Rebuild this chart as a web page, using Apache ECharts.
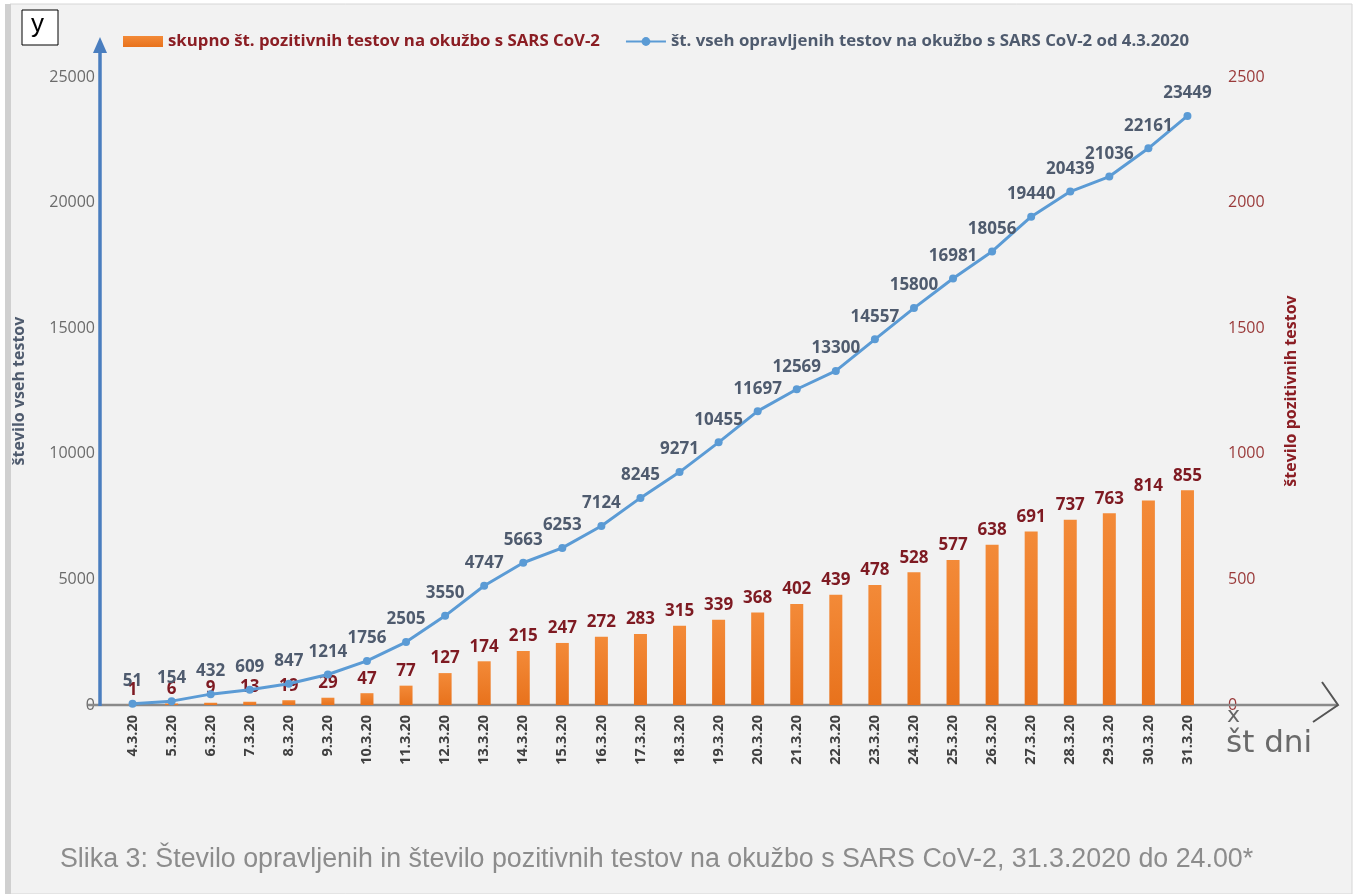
<!DOCTYPE html>
<html>
<head>
<meta charset="utf-8">
<script src="https://cdn.jsdelivr.net/npm/echarts@6/dist/echarts.min.js"></script>
<style>
html,body{margin:0;padding:0;background:#fff;}
#c{width:1360px;height:894px;}
</style>
</head>
<body>
<div id="c"></div>
<script>
const categories = ['4.3.20','5.3.20','6.3.20','7.3.20','8.3.20','9.3.20','10.3.20','11.3.20','12.3.20','13.3.20','14.3.20','15.3.20','16.3.20','17.3.20','18.3.20','19.3.20','20.3.20','21.3.20','22.3.20','23.3.20','24.3.20','25.3.20','26.3.20','27.3.20','28.3.20','29.3.20','30.3.20','31.3.20'];
const positiveTests = [1,6,9,13,19,29,47,77,127,174,215,247,272,283,315,339,368,402,439,478,528,577,638,691,737,763,814,855];
const allTests = [51,154,432,609,847,1214,1756,2505,3550,4747,5663,6253,7124,8245,9271,10455,11697,12569,13300,14557,15800,16981,18056,19440,20439,21036,22161,23449];
const barName = 'skupno št. pozitivnih testov na okužbo s SARS CoV-2';
const lineName = 'št. vseh opravljenih testov na okužbo s SARS CoV-2 od 4.3.2020';
const leftAxisName = 'število vseh testov';
const rightAxisName = 'število pozitivnih testov';
const caption = 'Slika 3: Število opravljenih in število pozitivnih testov na okužbo s SARS CoV-2, 31.3.2020 do 24.00*';

const FONT = "'Open Sans', sans-serif";
const plain = v => String(v);
const chart = echarts.init(document.getElementById('c'));
chart.setOption({
  backgroundColor: '#ffffff',
  animation: false,
  textStyle: { fontFamily: FONT },
  grid: { left: 113, right: 153, top: 77, bottom: 189 },
  legend: {
    left: 118, top: 28, itemGap: 25, itemWidth: 40, itemHeight: 11,
    textStyle: { fontFamily: FONT, fontSize: 16.8, fontWeight: 'bold' },
    data: [
      { name: barName, icon: 'rect', textStyle: { color: '#8b1e24' } },
      { name: lineName, itemWidth: 30, textStyle: { color: '#4f5b6e' } }
    ]
  },
  xAxis: {
    type: 'category', data: categories,
    axisLine: { show: false },
    axisTick: { show: false },
    axisLabel: { rotate: 90, fontSize: 14.5, fontWeight: 'bold', color: '#404040', margin: 10, fontFamily: FONT }
  },
  yAxis: [
    {
      type: 'value', min: 0, max: 25000, interval: 5000,
      name: leftAxisName, nameLocation: 'middle', nameGap: 86, nameRotate: 90,
      nameTextStyle: { color: '#4f5b6e', fontSize: 16, fontWeight: 'bold', fontFamily: FONT },
      axisLine: { show: false }, axisTick: { show: false }, splitLine: { show: false },
      axisLabel: { color: '#6b6b6b', fontSize: 16, margin: 18, fontFamily: FONT, formatter: plain }
    },
    {
      type: 'value', min: 0, max: 2500, interval: 500,
      name: rightAxisName, nameLocation: 'middle', nameGap: 76, nameRotate: 90,
      nameTextStyle: { color: '#8b1e24', fontSize: 16, fontWeight: 'bold', fontFamily: FONT },
      axisLine: { show: false }, axisTick: { show: false }, splitLine: { show: false },
      axisLabel: { color: '#9a3a3a', fontSize: 16, margin: 21, fontFamily: FONT, formatter: plain }
    }
  ],
  series: [
    {
      name: barName, type: 'bar', yAxisIndex: 1, data: positiveTests, barWidth: 13,
      itemStyle: { color: new echarts.graphic.LinearGradient(0,0,0,1,[{offset:0,color:'#f38a38'},{offset:1,color:'#e8721c'}]) },
      label: { show: true, position: 'top', distance: 6, color: '#7e1a22', fontSize: 17, fontWeight: 'bold', fontFamily: FONT },
      z: 2
    },
    {
      name: lineName, type: 'line', yAxisIndex: 0, data: allTests,
      symbol: 'circle', symbolSize: 8,
      lineStyle: { color: '#5b9bd5', width: 3 },
      itemStyle: { color: '#5b9bd5' },
      label: { show: true, position: 'top', distance: 10, color: '#4f5b6e', fontSize: 17, fontWeight: 'bold', fontFamily: FONT },
      z: 3
    }
  ],
  graphic: [
    { type: 'rect', shape: { x: 10, y: 4, width: 1342, height: 890 }, style: { fill: '#f2f2f2', stroke: '#d6d6d6', lineWidth: 1 }, z: -10, silent: true },
    { type: 'rect', shape: { x: 5, y: 4, width: 6, height: 890 }, style: { fill: '#d0d0d0' }, z: -9 },
    { type: 'line', shape: { x1: 88, y1: 705, x2: 1338, y2: 705 }, style: { stroke: '#8a8a8a', lineWidth: 2.5 }, z: 1 },
    { type: 'polyline', shape: { points: [[1322,682],[1338,705],[1313,722]] }, style: { stroke: '#555', lineWidth: 2, fill: null }, z: 5 },
    { type: 'line', shape: { x1: 100, y1: 706, x2: 100, y2: 52 }, style: { stroke: '#4a7ebf', lineWidth: 3.5 }, z: 6 },
    { type: 'polygon', shape: { points: [[100,37],[93,53],[107,53]] }, style: { fill: '#4a7ebf' }, z: 6 },
    { type: 'rect', shape: { x: 22, y: 10, width: 36, height: 35 }, style: { fill: '#ffffff', stroke: '#000', lineWidth: 1 }, z: 6 },
    { type: 'text', left: 31, top: 12, style: { text: 'y', fill: '#000', font: "26px 'Liberation Sans', sans-serif" }, z: 7 },
    { type: 'text', left: 1227, top: 705, style: { text: 'x', fill: '#666', font: "22px 'DejaVu Sans', sans-serif" }, z: 7 },
    { type: 'text', left: 1226, top: 728, style: { text: 'št dni', fill: '#6a6a6a', font: "31px 'DejaVu Sans', sans-serif" }, z: 7 },
    { type: 'text', left: 60, top: 846, style: { text: caption, fill: '#8c8c8c', font: "26.8px 'Liberation Sans', sans-serif" }, z: 7 }
  ]
});
</script>
</body>
</html>
